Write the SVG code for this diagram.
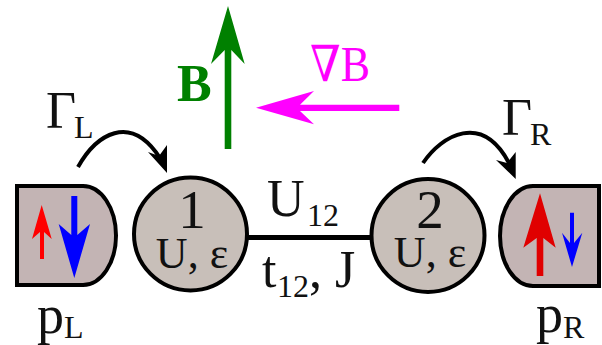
<svg xmlns="http://www.w3.org/2000/svg" width="602" height="345" viewBox="0 0 602 345">
<style>
text{font-family:"Liberation Serif","DejaVu Serif",serif;fill:#111}
.lead{fill:#c3b4b4;stroke:#000;stroke-width:4}
.dot{fill:#c8bfb9;stroke:#000;stroke-width:4}
.hop{fill:none;stroke:#000;stroke-width:4}
.big{font-size:55px}.mid{font-size:44px}.lab{font-size:52px}.sub{font-size:32px}
</style>
<rect width="602" height="345" fill="#fff"/>
<g id="connectors">
<path d="M247 237.500H372" fill="none" stroke="#000" stroke-width="5"/>
<path class="hop" d="M78 167C96 135 130 112 160 158"/>
<path d="M167 173L148 152L159 156L167 145Z"/>
<path class="hop" d="M423 163C442 135 482 112 509 163"/>
<path d="M515.700 179L496 160L507 163L515.700 152Z"/>
</g>
<g id="lead-left">
<path class="lead" d="M17 186H83A33 49.500 0 0 1 83 285H17Z"/>
<path d="M40 259V232L32 239L41.700 205L51.700 239L44 232V259Z" fill="#f00"/>
<path d="M71.300 196V235L58.700 224L74.300 278L90 224L77.300 235V196Z" fill="#00f"/>
</g>
<g id="dot-1">
<circle class="dot" cx="190.500" cy="234" r="56.500"/>
<text class="big" x="192" y="228" text-anchor="middle">1</text>
<text class="mid" x="192" y="268" text-anchor="middle">U, ε</text>
</g>
<g id="dot-2">
<circle class="dot" cx="428" cy="235.500" r="56.500"/>
<text class="big" x="430" y="228" text-anchor="middle">2</text>
<text class="mid" x="430" y="267" text-anchor="middle">U, ε</text>
</g>
<g id="lead-right">
<path class="lead" d="M599 186H533A33 50 0 0 0 533 286H599Z"/>
<path d="M536.700 276V238L523.300 247.700L540 193.300L555.700 247.700L543.300 238V276Z" fill="#e00000"/>
<path d="M570 212.700V243L562 232.700L572 267L582.300 232.700L574 243V212.700Z" fill="#00f"/>
</g>
<g id="field-B">
<path d="M224.700 149V50L211 64L228 6L244.700 64L231.300 50V149Z" fill="#008000"/>
<text x="177" y="101" font-size="52" font-weight="bold" style="fill:#008000">B</text>
</g>
<g id="grad-B">
<path d="M399.300 104.700V111H300L314 124.300L256 107.700L314 91L300 104.700Z" fill="#f0f"/>
<text x="310" y="81" font-size="50" textLength="60" lengthAdjust="spacingAndGlyphs" style="fill:#f0f">∇B</text>
</g>
<g id="labels">
<text x="46" y="128" class="lab">Γ</text><text x="74" y="138" class="sub">L</text>
<text x="502" y="135" class="lab">Γ</text><text x="530" y="145" class="sub">R</text>
<text x="37" y="333" class="lab" style="font-size:54px">p</text><text x="64" y="338" class="sub">L</text>
<text x="536" y="332" class="lab" style="font-size:54px">p</text><text x="563" y="338" class="sub">R</text>
<text x="267" y="216" class="lab">U</text><text x="307" y="226" class="sub">12</text>
<text x="262" y="287" class="lab">t</text><text x="277" y="297" class="sub">12</text><text x="309" y="287" class="lab">, J</text>
</g>
</svg>
